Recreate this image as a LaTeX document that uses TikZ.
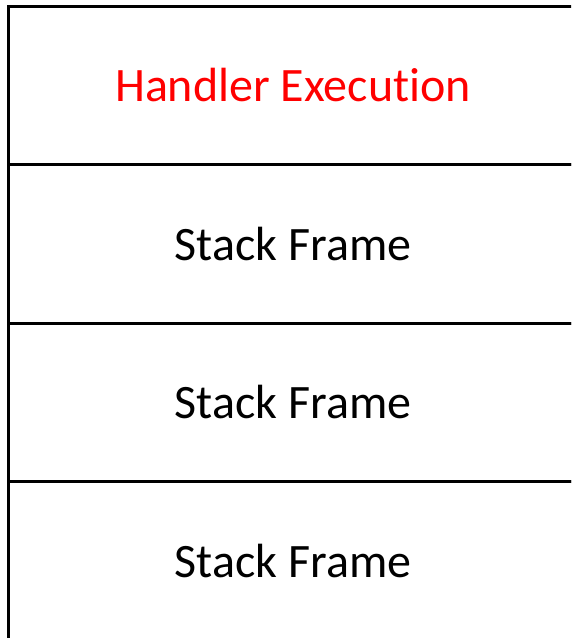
\documentclass[tikz,border=0pt]{standalone}
\usepackage{fontspec}
\setmainfont{Carlito}[Ligatures=NoCommon]
\usetikzlibrary{positioning}
\definecolor{edge}{HTML}{000000}
\definecolor{ink}{HTML}{000000}
\definecolor{hot}{HTML}{FF0000}
\tikzset{
  slot/.style={draw=edge, line width=3pt, minimum width=570pt, minimum height=158.5pt,
    inner sep=0pt, outer sep=0pt, text=ink, font=\fontsize{48}{57}\selectfont},
  hotslot/.style={slot, text=hot}
}
\begin{document}
\begin{tikzpicture}[x=1pt,y=1pt]
  \useasboundingbox (0,0) rectangle (571,-638);
  \clip (0,0) rectangle (571,-638);
  \node[hotslot, anchor=north west] (handler) at (8,-6) {Handler Execution};
  \node[slot, below=0pt of handler] (frameA) {Stack Frame};
  \node[slot, below=0pt of frameA] (frameB) {Stack Frame};
  \node[slot, below=0pt of frameB] (frameC) {Stack Frame};
\end{tikzpicture}
\end{document}
